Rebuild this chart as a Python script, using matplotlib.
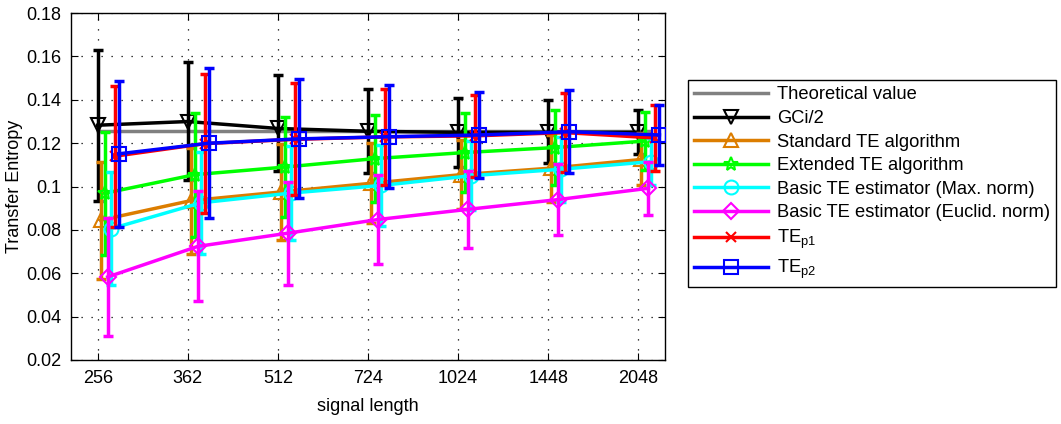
import matplotlib
matplotlib.use('Agg')
import matplotlib.pyplot as plt
from matplotlib.ticker import FuncFormatter, NullLocator

plt.rcParams['font.family'] = ['Liberation Sans', 'DejaVu Sans']
plt.rcParams['mathtext.fontset'] = 'custom'
plt.rcParams['mathtext.rm'] = 'Liberation Sans'
plt.rcParams['mathtext.it'] = 'Liberation Sans'

# data
lengths = [256, 362, 512, 724, 1024, 1448, 2048]
theoretical = 0.1258

gci_mean = [0.1283, 0.1300, 0.1268, 0.1255, 0.1250, 0.1250, 0.1250]
gci_lo = [0.0935, 0.1030, 0.1074, 0.1064, 0.1092, 0.1109, 0.1150]
gci_hi = [0.1630, 0.1576, 0.1514, 0.1450, 0.1410, 0.1399, 0.1353]

std_mean = [0.0845, 0.0935, 0.0975, 0.1015, 0.1055, 0.1085, 0.1125]
std_err = [0.0270, 0.0245, 0.0220, 0.0185, 0.0160, 0.0155, 0.0120]

ext_mean = [0.0969, 0.1055, 0.1090, 0.1129, 0.1157, 0.1180, 0.1210]
ext_err = [0.0284, 0.0286, 0.0229, 0.0201, 0.0181, 0.0173, 0.0135]

maxn_mean = [0.0805, 0.0925, 0.0970, 0.1005, 0.1050, 0.1080, 0.1115]
maxn_err = [0.0260, 0.0235, 0.0215, 0.0185, 0.0160, 0.0150, 0.0110]

eucl_mean = [0.0583, 0.0724, 0.0785, 0.0848, 0.0895, 0.0940, 0.0992]
eucl_err = [0.0272, 0.0254, 0.0238, 0.0205, 0.0177, 0.0163, 0.0123]

p1_mean = [0.1140, 0.1198, 0.1218, 0.1229, 0.1234, 0.1249, 0.1224]
p1_err = [0.0325, 0.0321, 0.0258, 0.0222, 0.0188, 0.0181, 0.0150]

p2_mean = [0.1151, 0.1200, 0.1220, 0.1230, 0.1238, 0.1253, 0.1238]
p2_err = [0.0336, 0.0346, 0.0274, 0.0238, 0.0200, 0.0192, 0.0138]

yticks = [0.02, 0.04, 0.06, 0.08, 0.1, 0.12, 0.14, 0.16, 0.18]

# (mean, yerr, label, colour, marker, pixel shift)
series = [
    (gci_mean, [[m - l for m, l in zip(gci_mean, gci_lo)], [h - m for m, h in zip(gci_mean, gci_hi)]],
     'GCi/2', 'k', 'v', 0),
    (std_mean, std_err, 'Standard TE algorithm', '#DC7D00', '^', 3),
    (ext_mean, ext_err, 'Extended TE algorithm', '#00FF00', '*', 7),
    (maxn_mean, maxn_err, 'Basic TE estimator (Max. norm)', '#00FFFF', 'o', 13),
    (eucl_mean, eucl_err, 'Basic TE estimator (Euclid. norm)', '#FF00FF', 'D', 10),
    (p1_mean, p1_err, r'TE$_{\mathrm{p1}}$', '#FF0000', 'x', 17),
    (p2_mean, p2_err, r'TE$_{\mathrm{p2}}$', '#0000FF', 's', 21),
]

fig = plt.figure(figsize=(10.61, 4.24), dpi=100)
ax = fig.add_axes([0.0669, 0.151, 0.56, 0.818])
ax.set_xscale('log', base=2)

ax.plot([lengths[0], lengths[-1] * 1.05], [theoretical, theoretical], color='#808080',
        lw=2.5, label='Theoretical value', zorder=2)

for mean, err, label, col, mk, shift in series:
    xs = [x * 2 ** (shift / 180.0) for x in lengths]
    ax.errorbar(xs, mean, yerr=err, fmt='none', ecolor=col, elinewidth=2.5,
                capsize=3.5, capthick=2.5, zorder=3)
    msz = 8 if mk == 'D' else (7 if mk == 'x' else 10)
    ax.plot(xs, mean, color=col, lw=2.5, marker=mk, markersize=msz,
            markerfacecolor='none', markeredgecolor=col, markeredgewidth=1.5,
            label=label, zorder=3)

ax.set_xlim(231, 2270)
ax.set_ylim(0.02, 0.18)
ax.set_xticks(lengths)
ax.set_xticklabels([str(v) for v in lengths])
ax.xaxis.set_minor_locator(NullLocator())
ax.set_yticks(yticks)
ax.yaxis.set_major_formatter(FuncFormatter(lambda v, p: '{:g}'.format(round(v, 2))))
ax.tick_params(direction='in', top=True, right=True, length=5, labelsize=13, pad=7)
ax.grid(True, color='k', linestyle=(0, (1, 7)), linewidth=0.9)
for s in ax.spines.values():
    s.set_linewidth(1.0)

ax.set_xlabel('signal length', fontsize=13, labelpad=8)
ax.set_ylabel('Transfer Entropy', fontsize=13, labelpad=2)

leg = fig.legend(loc='upper left', bbox_to_anchor=(0.6484, 0.8113), fontsize=13.2,
                 handlelength=4.0, handletextpad=0.5, labelspacing=0.36,
                 borderpad=0.35, borderaxespad=0, fancybox=False, edgecolor='k',
                 framealpha=1)
leg.get_frame().set_linewidth(1.0)

fig.savefig('out.png', dpi=100)
